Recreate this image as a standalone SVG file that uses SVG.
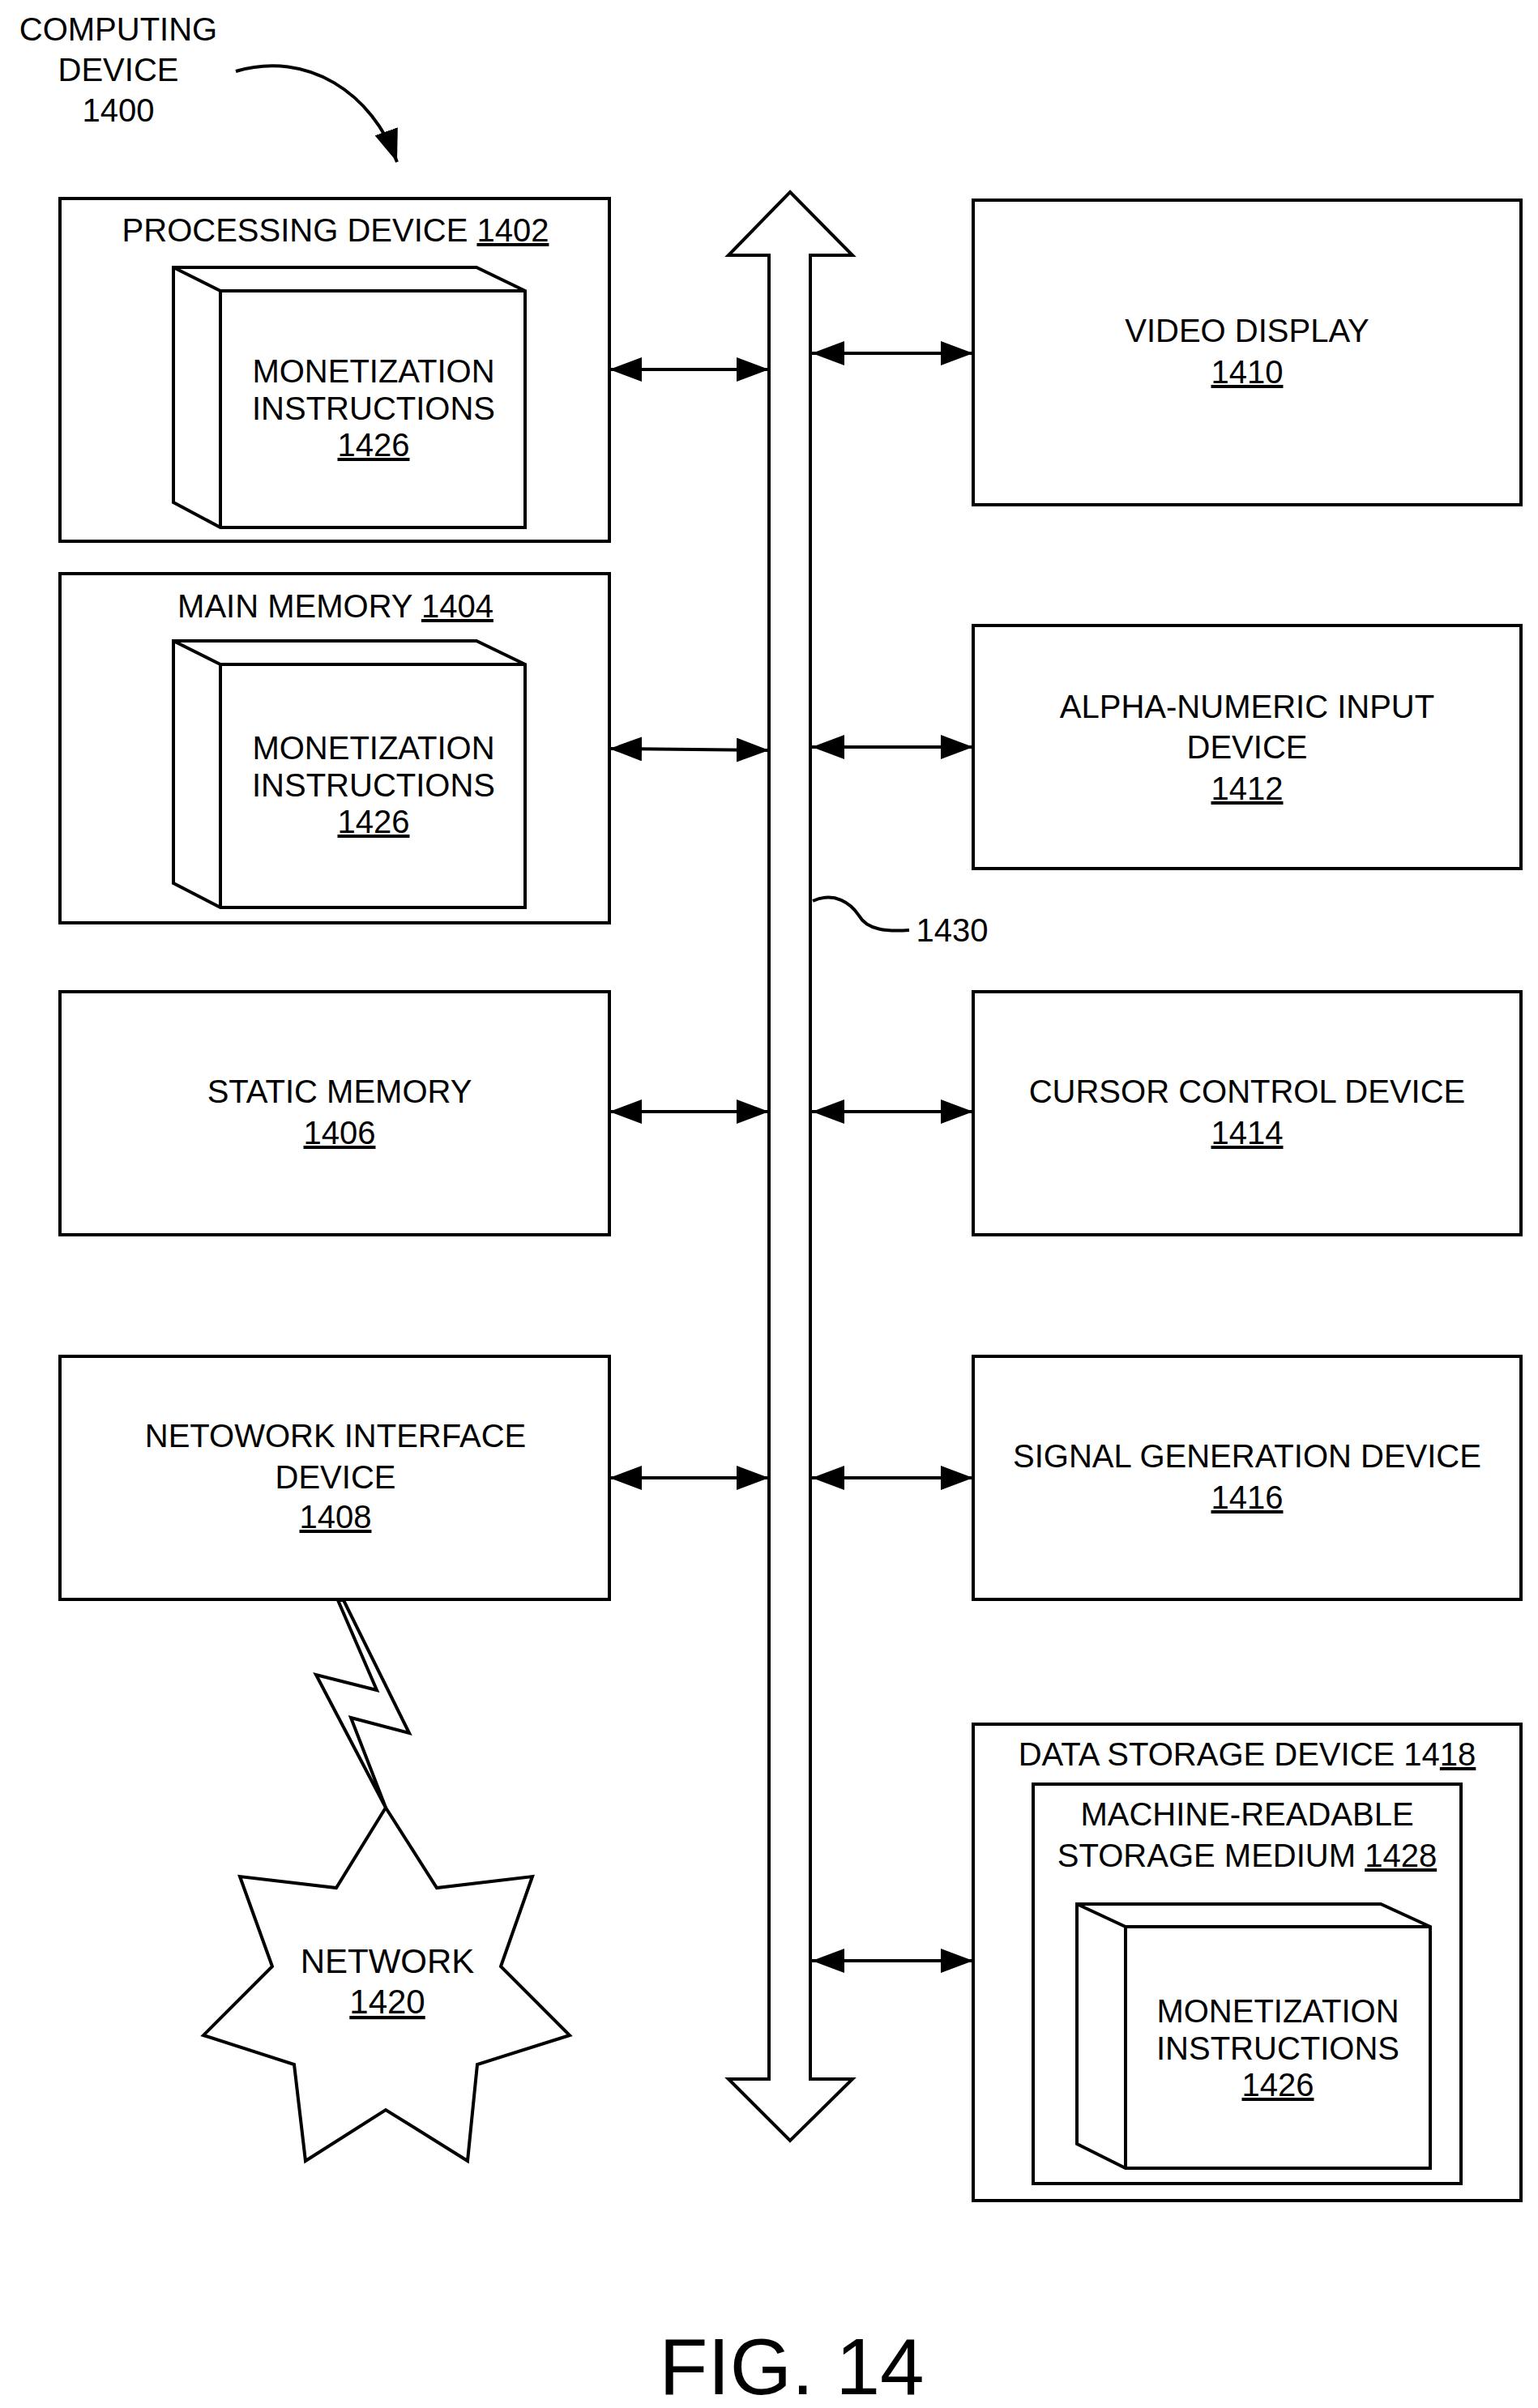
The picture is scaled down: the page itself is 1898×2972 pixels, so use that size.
<svg xmlns="http://www.w3.org/2000/svg" width="1898" height="2972" viewBox="0 0 1898 2972">
<style>
.b{fill:#fff;stroke:#000;stroke-width:4}
.l{fill:none;stroke:#000;stroke-width:4}
text{font-family:"Liberation Sans",Arial,sans-serif;font-size:40px;fill:#000;text-anchor:middle}
.u{text-decoration:underline}
</style>
<defs>
<marker id="ah" viewBox="0 0 40 30" refX="40" refY="15" markerWidth="40" markerHeight="30" markerUnits="userSpaceOnUse" orient="auto-start-reverse">
<path d="M0,0 L40,15 L0,30 Z" fill="#000"/>
</marker>
</defs>
<rect width="1898" height="2972" fill="#fff"/>
<g id="title">
<text x="146" y="50">COMPUTING</text>
<text x="146" y="100">DEVICE</text>
<text x="146" y="150">1400</text>
<path class="l" d="M291,88 C380,62 460,115 490,200" marker-end="url(#ah)"/>
</g>
<g id="bus">
<polygon class="b" points="975,237 1052,315 1000,315 1000,2566 1052,2566 975,2642 899,2566 949,2566 949,315 899,315"/>
<path class="l" d="M1003,1112 C1030,1100 1050,1115 1060,1130 C1070,1148 1095,1150 1122,1148"/>
<text x="1175" y="1162">1430</text>
</g>
<g id="n1402">
<rect class="b" x="74" y="245" width="678" height="423"/>
<text x="414" y="298">PROCESSING DEVICE <tspan class="u">1402</tspan></text>
<path class="b" d="M214,330 L588,330 L648,359 L648,651 L272,651 L214,620 Z"/>
<path class="l" d="M214,330 L272,359 L648,359 M272,359 L272,651"/>
<text x="461" y="472">MONETIZATION</text>
<text x="461" y="518">INSTRUCTIONS</text>
<text x="461" y="563" class="u">1426</text>
</g>
<g id="n1404">
<rect class="b" x="74" y="708" width="678" height="431"/>
<text x="414" y="762">MAIN MEMORY <tspan class="u">1404</tspan></text>
<path class="b" d="M214,791 L588,791 L648,820 L648,1120 L272,1120 L214,1090 Z"/>
<path class="l" d="M214,791 L272,820 L648,820 M272,820 L272,1120"/>
<text x="461" y="937">MONETIZATION</text>
<text x="461" y="983">INSTRUCTIONS</text>
<text x="461" y="1028" class="u">1426</text>
</g>
<g id="n1406">
<rect class="b" x="74" y="1224" width="678" height="300"/>
<text x="419" y="1361">STATIC MEMORY</text>
<text x="419" y="1412" class="u">1406</text>
</g>
<g id="n1408">
<rect class="b" x="74" y="1674" width="678" height="300"/>
<text x="414" y="1786">NETOWORK INTERFACE</text>
<text x="414" y="1837">DEVICE</text>
<text x="414" y="1886" class="u">1408</text>
</g>
<g id="n1410">
<rect class="b" x="1201" y="247" width="676" height="376"/>
<text x="1539" y="422">VIDEO DISPLAY</text>
<text x="1539" y="473" class="u">1410</text>
</g>
<g id="n1412">
<rect class="b" x="1201" y="772" width="676" height="300"/>
<text x="1539" y="886">ALPHA-NUMERIC INPUT</text>
<text x="1539" y="936">DEVICE</text>
<text x="1539" y="987" class="u">1412</text>
</g>
<g id="n1414">
<rect class="b" x="1201" y="1224" width="676" height="300"/>
<text x="1539" y="1361">CURSOR CONTROL DEVICE</text>
<text x="1539" y="1412" class="u">1414</text>
</g>
<g id="n1416">
<rect class="b" x="1201" y="1674" width="676" height="300"/>
<text x="1539" y="1811">SIGNAL GENERATION DEVICE</text>
<text x="1539" y="1862" class="u">1416</text>
</g>
<g id="n1418">
<rect class="b" x="1201" y="2128" width="676" height="588"/>
<text x="1539" y="2179">DATA STORAGE DEVICE 14<tspan class="u">18</tspan></text>
<rect class="b" x="1275" y="2202" width="528" height="493"/>
<text x="1539" y="2253">MACHINE-READABLE</text>
<text x="1539" y="2304">STORAGE MEDIUM <tspan class="u">1428</tspan></text>
<path class="b" d="M1329,2350 L1704,2350 L1765,2378 L1765,2676 L1389,2676 L1329,2646 Z"/>
<path class="l" d="M1329,2350 L1389,2378 L1765,2378 M1389,2378 L1389,2676"/>
<text x="1577" y="2496">MONETIZATION</text>
<text x="1577" y="2542">INSTRUCTIONS</text>
<text x="1577" y="2587" class="u">1426</text>
</g>
<g id="n1420">
<polygon class="b" points="476,2231 539,2330 657,2316 618,2427 703,2512 589,2548 577,2667 476,2604 377,2667 363,2548 251,2512 336,2427 296,2316 415,2330"/>
<text x="478" y="2435" style="font-size:42px">NETWORK</text>
<text x="478" y="2485" class="u" style="font-size:42px">1420</text>
</g>
<g id="connectors">
<line class="l" x1="752" y1="456" x2="949" y2="456" marker-start="url(#ah)" marker-end="url(#ah)"/>
<line class="l" x1="752" y1="924" x2="949" y2="926" marker-start="url(#ah)" marker-end="url(#ah)"/>
<line class="l" x1="752" y1="1372" x2="949" y2="1372" marker-start="url(#ah)" marker-end="url(#ah)"/>
<line class="l" x1="752" y1="1824" x2="949" y2="1824" marker-start="url(#ah)" marker-end="url(#ah)"/>
<line class="l" x1="1002" y1="436" x2="1201" y2="436" marker-start="url(#ah)" marker-end="url(#ah)"/>
<line class="l" x1="1002" y1="922" x2="1201" y2="922" marker-start="url(#ah)" marker-end="url(#ah)"/>
<line class="l" x1="1002" y1="1372" x2="1201" y2="1372" marker-start="url(#ah)" marker-end="url(#ah)"/>
<line class="l" x1="1002" y1="1824" x2="1201" y2="1824" marker-start="url(#ah)" marker-end="url(#ah)"/>
<line class="l" x1="1002" y1="2420" x2="1201" y2="2420" marker-start="url(#ah)" marker-end="url(#ah)"/>
<polygon class="b" points="417,1975 465,2086 390,2067 476,2231 433,2120 505,2139 424,1975"/>
</g>
<text x="977" y="2955" style="font-size:98px">FIG. 14</text>
</svg>
